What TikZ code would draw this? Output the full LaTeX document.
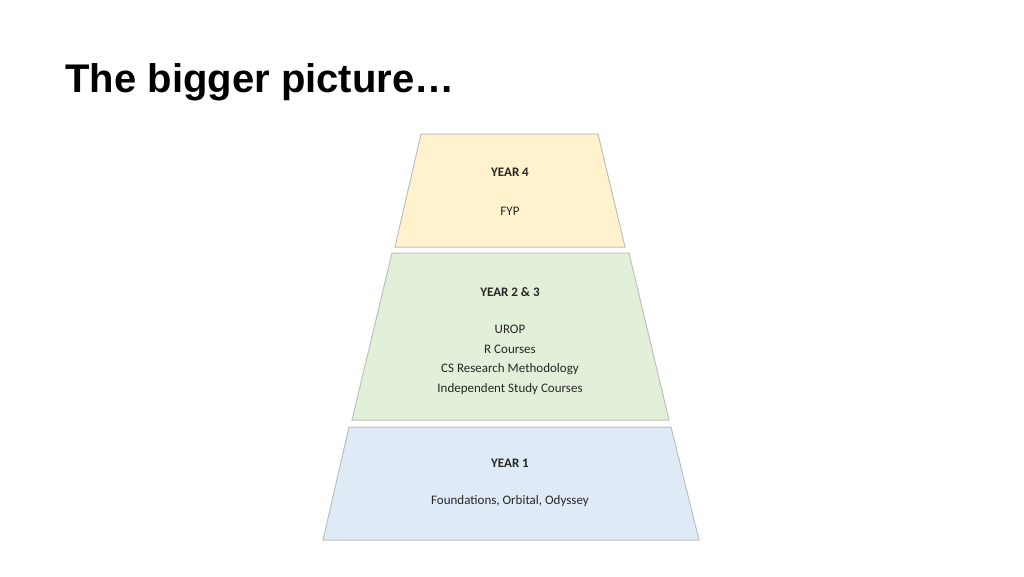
\documentclass[tikz,border=0pt]{standalone}
\usepackage{fontspec}
\setmainfont{Liberation Sans}
\newfontfamily\calib{Carlito}
\definecolor{yrfour}{HTML}{FFF2CC}
\definecolor{yrtwo}{HTML}{E2F0D9}
\definecolor{yrone}{HTML}{DEEBF7}
\definecolor{edgegrey}{HTML}{BFBFBF}
\tikzset{
  level/.style={draw=edgegrey, line width=1pt},
  label/.style={font=\calib\fontsize{13}{16}\selectfont, text=black!85, align=center},
  head/.style={label, font=\calib\bfseries\fontsize{13}{16}\selectfont}
}
\begin{document}
\begin{tikzpicture}[x=1pt,y=-1pt]
      \useasboundingbox [fill=white] (0,0) rectangle (1024,576);
      \node at (62,82) [anchor=west, font=\bfseries\fontsize{40}{48}\selectfont] {The bigger picture…};
      % year 4
      \filldraw [level, fill=yrfour] (421,134) -- (598,134) -- (625,247) -- (395,247) -- cycle;
      \node (y4) at (510,172) [head] {YEAR 4};
      \node (fyp) at (510,211) [label] {FYP};
      % year 2 and 3
      \filldraw [level, fill=yrtwo] (392,253) -- (629,253) -- (669,420) -- (352,420) -- cycle;
      \node (y23) at (510,292) [head] {YEAR 2 \& 3};
      \node (mid) at (510,360) [label] {UROP\\[3.5pt]R Courses\\[3.5pt]CS Research Methodology\\[3.5pt]Independent Study Courses};
      % year 1
      \filldraw [level, fill=yrone] (349,427) -- (671,427) -- (699,540) -- (323,540) -- cycle;
      \node (y1) at (510,463) [head] {YEAR 1};
      \node (fnd) at (510,501) [label] {Foundations, Orbital, Odyssey};
\end{tikzpicture}
\end{document}
